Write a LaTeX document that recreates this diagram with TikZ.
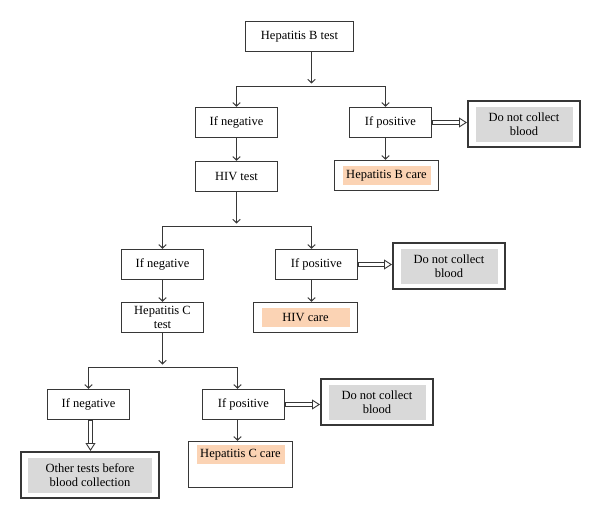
\documentclass[tikz,border=0pt]{standalone}
\usepackage{fontspec}
\setmainfont{Liberation Serif}
\usetikzlibrary{arrows.meta}
\usetikzlibrary{calc}
\usetikzlibrary{decorations.markings}

\definecolor{linegray}{RGB}{55,55,55}
\definecolor{shadegray}{RGB}{217,217,217}
\definecolor{carepeach}{RGB}{251,211,180}

\begin{document}
\begin{tikzpicture}[x=1pt, y=-1pt, >={Straight Barb[length=3.5pt,width=7.5pt]},
  every node/.style={font=\fontsize{12.5}{14}\selectfont, align=center, inner sep=0pt},
  box/.style={draw=linegray, line width=1.5pt, fill=white, minimum width=82pt, minimum height=30pt},
  frame/.style={draw=linegray, line width=2pt, fill=white, minimum width=112pt, minimum height=46pt},
  shade/.style={fill=shadegray, minimum width=97pt, minimum height=35pt},
  care/.style={fill=carepeach, minimum width=88pt, minimum height=19pt},
  conn/.style={draw=linegray, line width=1pt},
  dbl/.style={draw=white, line width=3pt, shorten >=7.5pt, shorten <=0.8pt,
    preaction={draw=linegray, line width=5pt, shorten >=7.5pt, shorten <=0pt},
    postaction={decorate, decoration={markings, mark=at position 1 with
      {\arrow[draw=linegray, line width=0.9pt]{Triangle[open, length=8pt, width=10pt]}}}}}]
\useasboundingbox (0,0) rectangle (600,519);

%level 1: hepatitis B
\node[box, minimum width=108pt] (hbt) at (299.5,36.5) {Hepatitis B test};
\node[box] (neg1) at (236.5,122.5) {If negative};
\node[box] (pos1) at (390.5,122.5) {If positive};
\node[frame] (dn1) at (524,124) {};
\node[shade] at (dn1) {Do not collect\\blood};
\node[box, minimum width=104pt] (hbc) at (386.5,175.5) {};
\node[care] at (hbc) {Hepatitis B care};
\node[box] (hiv) at (236.5,176.5) {HIV test};

\coordinate (s1) at (311.5,86.5);
\coordinate (s1l) at (236.5,86.5);
\coordinate (s1r) at (385.5,86.5);
\draw[conn, ->, shorten >=3pt] (hbt.south -| s1) -- (s1);
\draw[conn, <->] (neg1.north -| s1l) |- (s1r) -- (pos1.north -| s1r);
\draw[conn, ->] (neg1.south -| s1l) -- (hiv.north -| s1l);
\draw[conn, ->] (pos1.south -| s1r) -- (hbc.north -| s1r);
\draw[dbl] (pos1.east) -- (dn1.west |- pos1.east);

%level 2: HIV
\node[box] (neg2) at (162.5,264.5) {If negative};
\node[box] (pos2) at (316.5,264.5) {If positive};
\node[frame] (dn2) at (449,266) {};
\node[shade] at (dn2) {Do not collect\\blood};
\node[box, minimum width=104pt] (hivc) at (305.5,317.5) {};
\node[care] at (hivc) {HIV care};
\node[box] (hct) at (162.5,317.5) {Hepatitis C\\test};

\coordinate (s2) at (236.5,226.5);
\coordinate (s2l) at (162.5,226.5);
\coordinate (s2r) at (311.5,226.5);
\draw[conn, ->, shorten >=3pt] (hiv.south -| s2) -- (s2);
\draw[conn, <->] (neg2.north -| s2l) |- (s2r) -- (pos2.north -| s2r);
\draw[conn, ->] (neg2.south -| s2l) -- (hct.north -| s2l);
\draw[conn, ->] (pos2.south -| s2r) -- (hivc.north -| s2r);
\draw[dbl] (pos2.east) -- (dn2.west |- pos2.east);

%level 3: hepatitis C
\node[box] (neg3) at (88.5,404.5) {If negative};
\node[box] (pos3) at (243.5,404.5) {If positive};
\node[frame] (dn3) at (377,402) {};
\node[shade] at (dn3) {Do not collect\\blood};
\node[box, minimum width=104pt, minimum height=46pt] (hcc) at (240.5,464.5) {};
\node[care] at ($(hcc.north)+(0,13.5)$) {Hepatitis C care};
\node[frame, minimum width=138pt] (oth) at (90,475) {};
\node[shade, minimum width=124pt] at (oth) {Other tests before\\blood collection};

\coordinate (s3) at (162.5,367.5);
\coordinate (s3l) at (88.5,367.5);
\coordinate (s3r) at (237.5,367.5);
\coordinate (d3) at (90.5,419.5);
\draw[conn, ->, shorten >=3pt] (hct.south -| s3) -- (s3);
\draw[conn, <->] (neg3.north -| s3l) |- (s3r) -- (pos3.north -| s3r);
\draw[conn, ->] (pos3.south -| s3r) -- (hcc.north -| s3r);
\draw[dbl] (pos3.east) -- (dn3.west |- pos3.east);
\draw[dbl] (neg3.south -| d3) -- (oth.north -| d3);
\end{tikzpicture}
\end{document}
